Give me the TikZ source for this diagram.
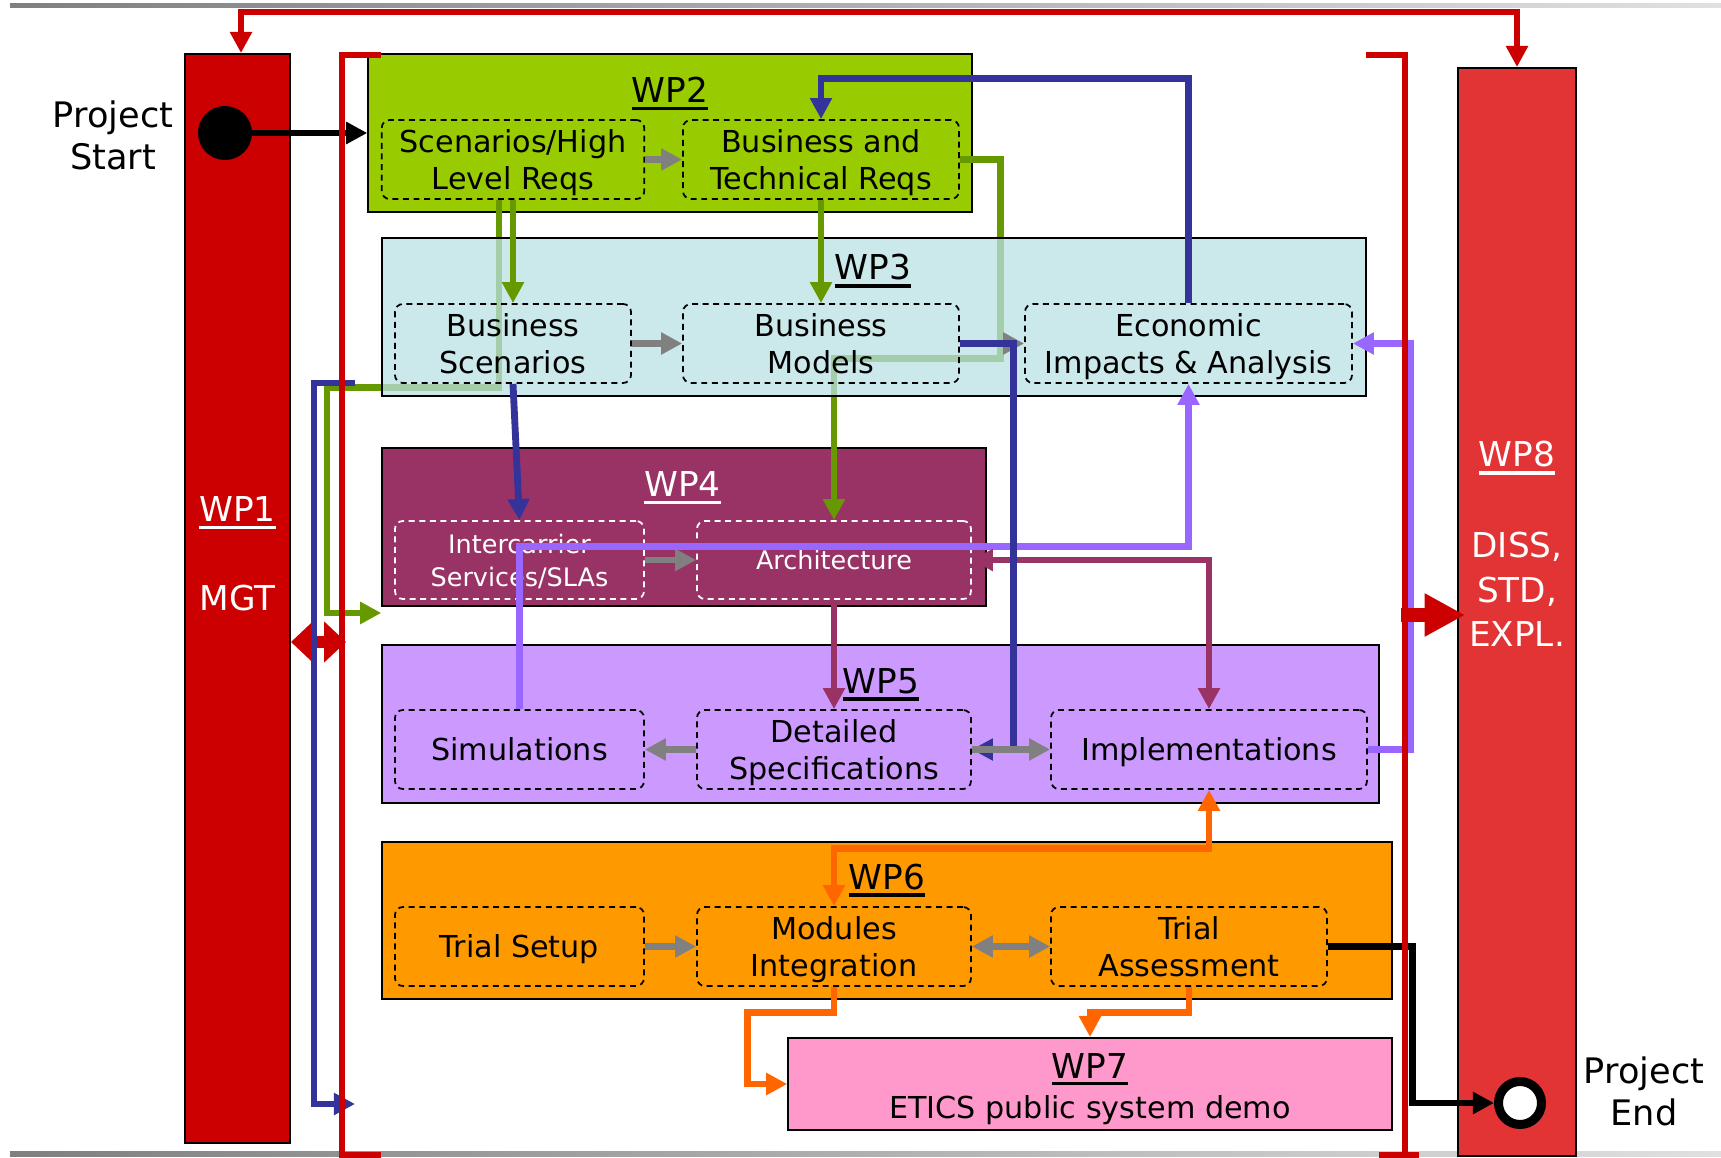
\documentclass[tikz,border=0pt]{standalone}
\usepackage{fontspec}
\setmainfont{DejaVu Sans}
\usetikzlibrary{arrows.meta,calc,positioning}
\definecolor{wpgreen}{RGB}{153,204,0}
\definecolor{wpcyan}{RGB}{186,224,227}
\definecolor{wpplum}{RGB}{153,51,102}
\definecolor{wplilac}{RGB}{204,153,255}
\definecolor{wporange}{RGB}{255,153,0}
\definecolor{wppink}{RGB}{255,153,204}
\definecolor{wpred}{RGB}{204,0,0}
\definecolor{wpredlt}{RGB}{226,52,52}
\definecolor{lngreen}{RGB}{102,153,0}
\definecolor{lnblue}{RGB}{51,51,153}
\definecolor{lnviolet}{RGB}{153,102,255}
\definecolor{lnorange}{RGB}{255,102,0}
\definecolor{lngray}{RGB}{128,128,128}
\newcommand{\ulw}[1]{\vtop{\hbox{#1}\kern2.2pt\hrule height 2pt}}

\begin{document}
\begin{tikzpicture}[x=0.02cm,y=-0.02cm,>={Triangle[length=12pt,width=12pt]},
  sz/.style 2 args={minimum width=#1*0.02cm,minimum height=#2*0.02cm}]
\tikzstyle{wp}=[draw,line width=1.1pt,inner sep=0pt]
\tikzstyle{task}=[draw,dash pattern=on 3.4pt off 2.6pt,rounded corners=4.5pt,line width=1pt,
  align=center,inner sep=0pt,text depth=0pt,font=\fontsize{17.2}{21.5}\selectfont]
\tikzstyle{ttl}=[anchor=base,inner sep=0pt,font=\fontsize{19.5}{24}\selectfont]
\tikzstyle{con}=[line width=3.9pt,->]
\tikzstyle{redline}=[wpred,line width=3.6pt]
\useasboundingbox (0,0) rectangle (1721,1158);

\shade[left color=black!50,right color=black!12] (10,4) rectangle (1721,8);
\shade[left color=black!50,right color=black!12] (10,1151) rectangle (1721,1156);

\node[wp,fill=wpred,sz={105}{1089}] (wp1) at (237.5,598.5) {};
\node[ttl,text=white] (wp1t) at (237.5,522) {\ulw{WP1}};
\node[ttl,text=white] (wp1l) at (237.5,610) {MGT};

\node[wp,fill=wpredlt,sz={118}{1088}] (wp8) at (1517,612) {};
\node[ttl,text=white] (wp8t) at (1517,467) {\ulw{WP8}};
\node[ttl,text=white,anchor=north,align=center,font=\fontsize{19.5}{25.2}\selectfont] (wp8l) at (1517,532) {DISS,\\STD,\\EXPL.};

\node[wp,fill=wpgreen,sz={603.5}{158}] (wp2) at (670,133) {};
\node[ttl] (wp2t) at (670,103) {\ulw{WP2}};
\node[task,sz={262.5}{79}] (shl) at (513,159.5) {Scenarios/High\\Level Reqs};
\node[task,sz={276}{79}] (btr) at (821,159.5) {Business and\\Technical Reqs};

\node[wp,fill=wpplum,sz={603.5}{158}] (wp4) at (684,527) {};
\node[ttl,text=white] (wp4t) at (682.5,497) {\ulw{WP4}};
\node[task,draw=white,text=white,font=\fontsize{14.5}{18.7}\selectfont,sz={249}{78}] (ics) at (519.5,560) {Intercarrier\\Services/SLAs};
\node[task,draw=white,text=white,font=\fontsize{14.5}{18.7}\selectfont,sz={274}{78}] (arc) at (834,560) {Architecture};

\node[wp,fill=wplilac,sz={997}{158}] (wp5) at (880.5,724) {};
\node[ttl] (wp5t) at (881,693) {\ulw{WP5}};
\node[task,sz={249}{79}] (sim) at (519.5,749.5) {Simulations};
\node[task,sz={274}{79}] (dsp) at (834,749.5) {Detailed\\Specifications};
\node[task,sz={316}{79}] (imp) at (1209,749.5) {Implementations};

\node[wp,fill=wporange,sz={1010}{157}] (wp6) at (887,920.5) {};
\node[ttl] (wp6t) at (887,889) {\ulw{WP6}};
\node[task,sz={249}{79}] (tse) at (519.5,946.5) {Trial Setup};
\node[task,sz={274}{79}] (mod) at (834,946.5) {Modules\\Integration};
\node[task,sz={276}{79}] (tas) at (1189,946.5) {Trial\\Assessment};

\node[wp,fill=wppink,sz={603.5}{92}] (wp7) at (1090,1084) {};
\node[ttl] (wp7t) at (1090,1078) {\ulw{WP7}};
\node[ttl,font=\fontsize{17.2}{21.5}\selectfont] (wp7l) at (1090,1118) {ETICS public system demo};

\draw[con,lngreen] ($(shl.south)+(-14,0)$) -- ++(0,188) -- ++(-172,0) |- ($(wp4.south west)+(0,6)$);
\draw[con,lngreen] (btr.east) -- ++(41,0) -- ++(0,199) -| (arc.north);

\node[wp,fill=wpcyan,fill opacity=0.75,sz={984}{158}] (wp3) at (874,317) {};
\node[ttl] (wp3t) at (873,280) {\ulw{WP3}};
\node[task,sz={236}{79}] (bsc) at (513,343.5) {Business\\Scenarios};
\node[task,sz={276}{79}] (bmo) at (821,343.5) {Business\\Models};
\node[task,sz={327}{79}] (eia) at (1188.5,343.5) {Economic\\Impacts \& Analysis};

\node[circle,fill=black,inner sep=0pt,minimum size=54*0.02cm] (ps) at (225,133) {};
\node[anchor=north,align=center,inner sep=0pt,font=\fontsize{20}{24.4}\selectfont] (pst) at (113,100) {Project\\Start};
\node[circle,draw=black,fill=white,line width=5.1pt,inner sep=0pt,minimum size=43*0.02cm] (pe) at (1520,1103) {};
\node[anchor=north,align=center,inner sep=0pt,font=\fontsize{20}{24.4}\selectfont] (pet) at (1644,1056) {Project\\End};

\draw[con,lngray] (shl.east) -- (btr.west);
\draw[con,lngray] (bsc.east) -- (bmo.west);
\draw[con,lngray] (bmo.east) -- (eia.west);
\draw[con,lngray] (ics.east) -- (arc.west);
\draw[con,lngray] (dsp.west) -- (sim.east);
\draw[con,lngray] (tse.east) -- (mod.west);
\draw[con,lngray,<->] (mod.east) -- (tas.west);

\draw[con,lngreen] (shl.south) -- (bsc.north);
\draw[con,lngreen] (btr.south) -- (bmo.north);

\draw[con,lnviolet] (sim.north) -- ++(0,-163) -| (eia.south);
\draw[con,lnviolet] (imp.east) -- ++(43,0) |- (eia.east);
\draw[con,wpplum] (arc.south) -- (dsp.north);
\draw[con,wpplum,<->] (arc.east) -| (imp.north);
\draw[con,lnorange,<->] (imp.south) -- ++(0,59) -| (mod.north);
\draw[con,lnorange] (mod.south) -- ++(0,26) -- ++(-86.5,0) |- (wp7.west);
\draw[con,lnorange] (tas.south) -- ++(0,26) -| (wp7.north);

\draw[con,lnblue] (eia.north) -- ++(0,-225) -| (btr.north);
\draw[con,lnblue] (bmo.east) -- ++(54,0) |- (dsp.east);
\draw[con,lnblue] (bsc.south) -- (ics.north);
\draw[con,lngray] (dsp.east) -- (imp.west);

\coordinate (rd) at (346,642);
\draw[wpred,line width=7pt,{Triangle[length=12.5pt,width=22.7pt]}-{Triangle[length=12.5pt,width=22.7pt]}] (rd -| wp1.east) -- (rd);

\coordinate (bl0) at (355,383);
\coordinate (bl1) at (355,1104);
\draw[con,lnblue] (bl0) -- ++(-41,0) |- (bl1);

\draw[con,black] (ps) -- (wp2.west);
\draw[con,black] (tas.east) -- ++(85,0) |- (pe.west);

\draw[redline] (381,55) -- (342,55) -- (342,1155) -- (381,1155);
\draw[redline] (1366,55) -- (1405,55) -- (1405,1155);
\draw[redline] (1379,1155) -- (1419,1155);
\draw[wpred,line width=3pt,<->] ($(wp1.north)+(3.5,0)$) -- ++(0,-41) -| (wp8.north);
\coordinate (rw) at (1401,615);
\draw[wpred,line width=7.4pt,-{Triangle[length=23pt,width=23pt]}] (rw) -- ($(rw -| wp8.west)+(8,0)$);
\end{tikzpicture}
\end{document}
